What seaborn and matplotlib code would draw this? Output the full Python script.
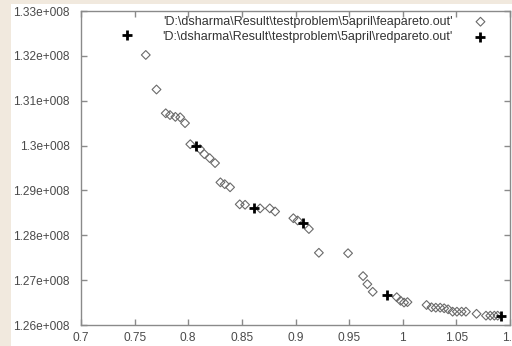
import matplotlib
matplotlib.use("Agg")
import matplotlib.pyplot as plt
import seaborn as sns
import pandas as pd
from matplotlib.patches import Rectangle

# --- data -------------------------------------------------------------
fea_x = [0.7604, 0.7704, 0.779, 0.783, 0.788, 0.7925, 0.797, 0.8019,
         0.811, 0.815, 0.820, 0.825, 0.830, 0.834, 0.839, 0.848, 0.853,
         0.867, 0.876, 0.881, 0.898, 0.902, 0.9125, 0.9218, 0.949, 0.963,
         0.967, 0.972, 0.9944, 0.998, 1.0012, 1.0044, 1.0222, 1.0268,
         1.0308, 1.0349, 1.0386, 1.0423, 1.0465, 1.0505, 1.0549, 1.0589,
         1.0688, 1.0776, 1.0816, 1.0854, 1.0885]
fea_y = [1.3202e8, 1.3125e8, 1.3072e8, 1.3068e8, 1.3064e8, 1.3063e8, 1.3050e8,
         1.3003e8, 1.2992e8, 1.2981e8, 1.2972e8, 1.2961e8, 1.2918e8, 1.2914e8,
         1.2907e8, 1.2869e8, 1.2868e8, 1.2860e8, 1.2860e8, 1.2853e8, 1.2838e8,
         1.2833e8, 1.2814e8, 1.2761e8, 1.2760e8, 1.2709e8, 1.2691e8, 1.2674e8,
         1.2662e8, 1.2654e8, 1.2650e8, 1.2651e8, 1.26446e8, 1.26395e8,
         1.26386e8, 1.26386e8, 1.26373e8, 1.26350e8, 1.26297e8, 1.26297e8,
         1.26297e8, 1.26297e8, 1.2625e8, 1.26208e8, 1.26208e8, 1.26208e8,
         1.26208e8]
red_x = [0.7427, 0.8072, 0.8617, 0.907, 0.985, 1.0916]
red_y = [1.3247e8, 1.2998e8, 1.2860e8, 1.2828e8, 1.2667e8, 1.2620e8]

fea_label = r"'D:\dsharma\Result\testproblem\5april\feapareto.out'"
red_label = r"'D:\dsharma\Result\testproblem\5april\redpareto.out'"

x_ticks = [0.7, 0.75, 0.8, 0.85, 0.9, 0.95, 1.0, 1.05, 1.1]
x_ticklabels = ["0.7", "0.75", "0.8", "0.85", "0.9", "0.95", "1", "1.05", "1.1"]
y_ticks = [1.26e8, 1.27e8, 1.28e8, 1.29e8, 1.30e8, 1.31e8, 1.32e8, 1.33e8]
y_ticklabels = ["1.26e+008", "1.27e+008", "1.28e+008", "1.29e+008",
                "1.3e+008", "1.31e+008", "1.32e+008", "1.33e+008"]

# --- style ------------------------------------------------------------
sns.set_theme(style="white")
plt.rcParams["font.family"] = ["Liberation Sans", "DejaVu Sans"]

fig = plt.figure(figsize=(5.12, 3.46), dpi=100)
fig.patch.set_facecolor("white")
# beige slide border at left and top
fig.patches.append(Rectangle((0, 0), 11 / 512, 1, transform=fig.transFigure,
                             facecolor="#f1e9de", edgecolor="none", zorder=0))
fig.patches.append(Rectangle((0, 1 - 4 / 346), 1, 4 / 346, transform=fig.transFigure,
                             facecolor="#f1e9de", edgecolor="none", zorder=0))

ax = fig.add_axes([81 / 512, 1 - 325 / 346, (510 - 81) / 512, (325 - 11) / 346])
ax.set_facecolor("white")

fea = pd.DataFrame({"x": fea_x, "y": fea_y})
red = pd.DataFrame({"x": red_x, "y": red_y})

sns.scatterplot(data=fea, x="x", y="y", ax=ax, marker="D", s=20,
                facecolor="none", edgecolor="#6a6a6a", linewidth=0.8,
                label=fea_label, zorder=3)
sns.scatterplot(data=red, x="x", y="y", ax=ax, marker="+", s=55,
                color="black", linewidth=2.0, label=red_label, zorder=4)

ax.set_xlim(0.7, 1.1)
ax.set_ylim(1.26e8, 1.33e8)
ax.set_xticks(x_ticks)
ax.set_xticklabels(x_ticklabels)
ax.set_yticks(y_ticks)
ax.set_yticklabels(y_ticklabels)
ax.set_xlabel("")
ax.set_ylabel("")

for sp in ax.spines.values():
    sp.set_color("#8a8a8a")
    sp.set_linewidth(1.0)

ax.tick_params(direction="in", length=4, width=1, color="#8a8a8a",
               labelsize=8.6, labelcolor="#4a4a4a",
               top=True, right=True, bottom=True, left=True)
ax.tick_params(axis="y", pad=8)
ax.tick_params(axis="x", pad=5)

leg = ax.legend(loc="upper right", bbox_to_anchor=(0.972, 1.0),
                frameon=False, markerfirst=False,
                fontsize=9.0, handletextpad=1.2, borderaxespad=0.1,
                labelspacing=0.25, borderpad=0.3)
for t in leg.get_texts():
    t.set_color("#333333")

fig.savefig("out.png", dpi=100)
